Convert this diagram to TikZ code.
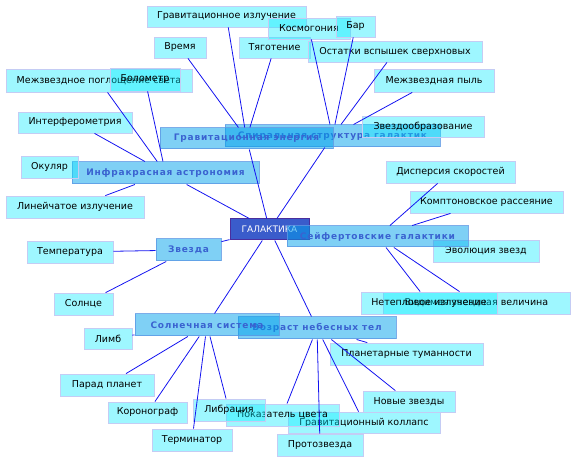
\documentclass[tikz,border=0pt]{standalone}
\usepackage{fontspec}
\setmainfont{DejaVu Sans}
\newfontfamily\topicfont[LetterSpace=9]{DejaVu Sans}
\definecolor{leafCyan}{HTML}{00EBFF}
\definecolor{leafEdge}{HTML}{C4CCF4}
\definecolor{topicBlue}{HTML}{00A1EB}
\definecolor{topicEdge}{HTML}{5C98E4}
\definecolor{topicText}{HTML}{3A62D0}
\definecolor{hubBlue}{HTML}{3A5CCB}
\definecolor{hubEdge}{HTML}{4A2E9E}
\definecolor{linkBlue}{HTML}{1414F0}

\begin{document}
\begin{tikzpicture}[
            x=1pt, y=-1pt,
            leaf/.style={
                    rectangle,
                    draw=leafEdge,
                    line width=0.8pt,
                    fill=leafCyan,
                    fill opacity=0.38,
                    text opacity=1,
                    minimum height=22,
                    inner sep=0,
                    font=\fontsize{9.5}{11}\selectfont
                },
            topic/.style={
                    rectangle,
                    draw=topicEdge,
                    line width=1pt,
                    fill=topicBlue,
                    fill opacity=0.5,
                    draw opacity=0.8,
                    text opacity=1,
                    text=topicText,
                    minimum height=22,
                    inner sep=0,
                    font=\topicfont\bfseries\fontsize{9}{11}\selectfont
                },
            hub/.style={
                    rectangle,
                    draw=hubEdge,
                    line width=1pt,
                    fill=hubBlue,
                    text=white,
                    minimum height=21,
                    inner sep=0,
                    font=\fontsize{9}{11}\selectfont
                },
            link/.style={draw=linkBlue, line width=0.8pt}
        ]
        \useasboundingbox (0,0) rectangle (576,462);

        \node[hub, minimum width=79] (galaktika) at (269.5,229.5) {ГАЛАКТИКА};

        % upper branches
        \node[topic, minimum width=215] (spiral) at (332.5,136) {Спиральная структура галактик};
        \node[topic, minimum width=173, minimum height=21] (grav) at (246.5,138.5) {Гравитационная энергия};
        \node[leaf, minimum width=159, minimum height=21] (gravizl) at (226.5,16.5) {Гравитационное излучение};
        \node[leaf, minimum width=52, minimum height=21] (vremya) at (180,47.5) {Время};
        \node[leaf, minimum width=71, minimum height=21] (tyag) at (274.5,47.5) {Тяготение};
        \node[leaf, minimum width=82, minimum height=21] (kosmo) at (309,28.5) {Космогония};
        \node[leaf, minimum width=39, minimum height=21] (bar) at (355.5,26.5) {Бар};
        \node[leaf, minimum width=174, minimum height=21] (ostatki) at (395,51.5) {Остатки вспышек сверхновых};
        \node[leaf, minimum width=120, minimum height=23] (pyl) at (434,80.5) {Межзвездная пыль};
        \node[leaf, minimum width=122, minimum height=21] (zvobr) at (423,126.5) {Звездообразование};

        % left branches
        \node[topic, minimum width=187] (infra) at (165.5,173) {Инфракрасная астрономия};
        \node[leaf, minimum width=186, minimum height=23] (pogl) at (99,80.5) {Межзвездное поглощение света};
        \node[leaf, minimum width=70, minimum height=23] (bolo) at (145,79.5) {Болометр};
        \node[leaf, minimum width=114, minimum height=21] (interf) at (75,122.5) {Интерферометрия};
        \node[leaf, minimum width=57] (okular) at (49.5,167) {Окуляр};
        \node[leaf, minimum width=138] (lineich) at (75,207) {Линейчатое излучение};

        \node[topic, minimum width=65] (zvezda) at (188.5,250) {Звезда};
        \node[leaf, minimum width=86] (temp) at (70,252) {Температура};
        \node[leaf, minimum width=59] (solnce) at (83.5,304) {Солнце};

        % lower branches
        \node[topic, minimum width=158] (vozrast) at (317,328) {Возраст небесных тел};
        \node[topic, minimum width=144] (solar) at (207,325) {Солнечная система};
        \node[leaf, minimum width=48, minimum height=21] (limb) at (108,338.5) {Лимб};
        \node[leaf, minimum width=94] (parad) at (107,385) {Парад планет};
        \node[leaf, minimum width=79, minimum height=21] (korono) at (147.5,412.5) {Коронограф};
        \node[leaf, minimum width=80] (termin) at (192,440) {Терминатор};
        \node[leaf, minimum width=152, minimum height=21] (kollaps) at (364,422.5) {Гравитационный коллапс};
        \node[leaf, minimum width=113] (pokaz) at (282.5,415) {Показатель цвета};
        \node[leaf, minimum width=72] (libr) at (229,410) {Либрация};
        \node[leaf, minimum width=86] (proto) at (320,445) {Протозвезда};
        \node[leaf, minimum width=92, minimum height=21] (novye) at (409,401.5) {Новые звезды};
        \node[leaf, minimum width=153] (planet) at (406.5,354) {Планетарные туманности};

        % right branch
        \node[leaf, minimum width=106] (evol) at (486,251) {Эволюция звезд};
        \node[topic, minimum width=181, minimum height=21] (seyfert) at (377.5,236.5) {Сейфертовские галактики};
        \node[leaf, minimum width=129] (dispers) at (450.5,172) {Дисперсия скоростей};
        \node[leaf, minimum width=153] (kompton) at (486.5,202) {Комптоновское рассеяние};
        \node[leaf, minimum width=187] (velich) at (476.5,303) {Видимая звездная величина};
        \node[leaf, minimum width=136] (neteplo) at (429,303) {Нетепловое излучение};

        % connectors
        \draw[link] (galaktika) -- (grav);
        \draw[link] (galaktika) -- (spiral);
        \draw[link] (galaktika) -- (infra);
        \draw[link] (galaktika) -- (zvezda);
        \draw[link] (galaktika) -- (solar);
        \draw[link] (galaktika) -- (vozrast);

        \draw[link] (gravizl) -- (grav);
        \draw[link] (vremya) -- (grav);
        \draw[link] (tyag) -- (grav);
        \draw[link] (kosmo) -- (spiral);
        \draw[link] (bar) -- (spiral);
        \draw[link] (ostatki) -- (spiral);
        \draw[link] (pyl) -- (spiral);

        \draw[link] (pogl) -- (infra);
        \draw[link] (bolo) -- (infra);
        \draw[link] (interf) -- (infra);
        \draw[link] (lineich) -- (infra);
        \draw[link] (temp) -- (zvezda);
        \draw[link] (solnce) -- (zvezda);

        \draw[link] (limb) -- (solar);
        \draw[link] (parad) -- (solar);
        \draw[link] (korono) -- (solar);
        \draw[link] (termin) -- (solar);
        \draw[link] (libr) -- (solar);
        \draw[link] (pokaz) -- (vozrast);
        \draw[link] (proto) -- (vozrast);
        \draw[link] (kollaps) -- (vozrast);
        \draw[link] (novye) -- (vozrast);
        \draw[link] (planet) -- (vozrast);

        \draw[link] (dispers) -- (seyfert);
        \draw[link] (kompton) -- (seyfert);
        \draw[link] (neteplo) -- (seyfert);
        \draw[link] (velich) -- (seyfert);
    \end{tikzpicture}
\end{document}
